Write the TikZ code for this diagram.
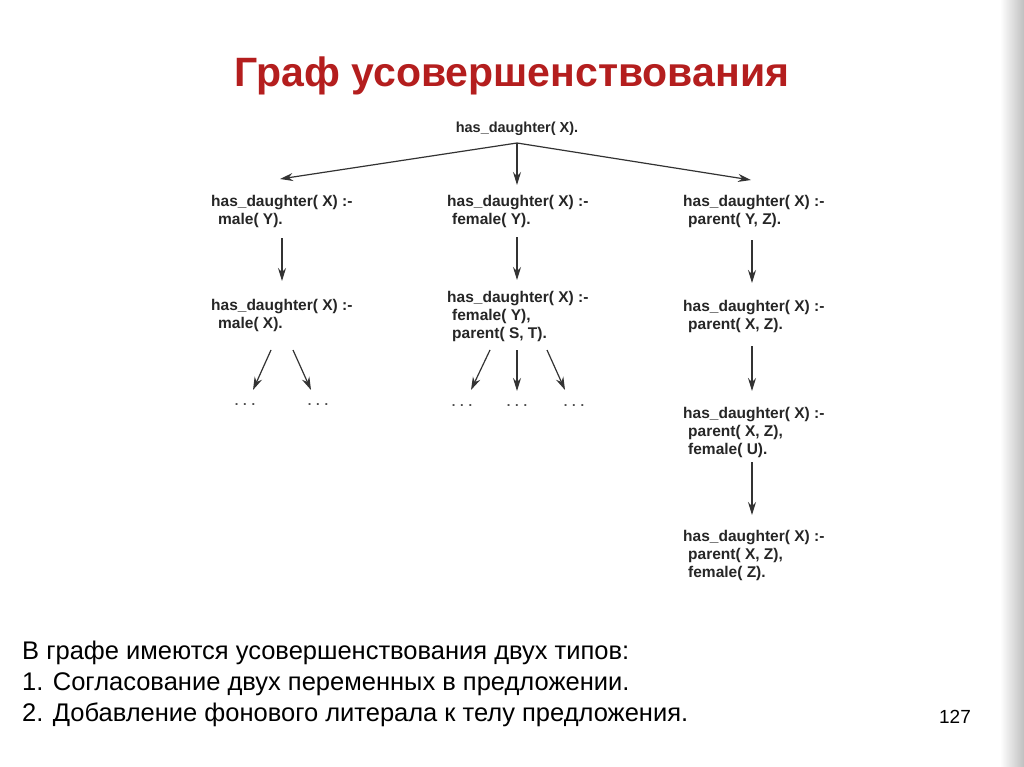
\documentclass[tikz,border=0pt]{standalone}
\usepackage{fontspec}
\setmainfont{Liberation Sans}
\usetikzlibrary{arrows.meta}
\begin{document}
\begin{tikzpicture}[x=1pt,y=-1pt,
  t/.style={anchor=north west,align=left,inner sep=0pt,font=\fontsize{15.5}{18}\selectfont\bfseries,text=black!85},
  dots/.style={inner sep=1pt,font=\fontsize{13}{14}\selectfont\bfseries,text=black!70},
  arr/.style={-{Stealth[length=13pt,width=8pt]},line width=1.2pt,black!80}]
\useasboundingbox (0,0) rectangle (1024,767);
\fill[white] (0,0) rectangle (1024,767);
\shade[left color=white,right color=black!25] (1000,0) rectangle (1024,767);
\node[text={rgb,255:red,180;green,30;blue,30},font=\fontsize{41}{44}\selectfont\bfseries] (title) at (512,76) {Граф усовершенствования};
\node[anchor=center,inner sep=1pt,font=\fontsize{14.5}{18}\selectfont\bfseries,text=black!85] (root) at (517,129) {has\_daughter( X).};
\node[t] (l1) at (211,195) {has\_daughter( X) :-\\\hspace*{7pt}male( Y).};
\node[t] (m1) at (447,195) {has\_daughter( X) :-\\\hspace*{5pt}female( Y).};
\node[t] (r1) at (683,195) {has\_daughter( X) :-\\\hspace*{5pt}parent( Y, Z).};
\node[t] (l2) at (211,299) {has\_daughter( X) :-\\\hspace*{7pt}male( X).};
\node[t] (m2) at (447,291) {has\_daughter( X) :-\\\hspace*{5pt}female( Y),\\\hspace*{5pt}parent( S, T).};
\node[t] (r2) at (683,300) {has\_daughter( X) :-\\\hspace*{5pt}parent( X, Z).};
\node[t] (r3) at (683,407) {has\_daughter( X) :-\\\hspace*{5pt}parent( X, Z),\\\hspace*{5pt}female( U).};
\node[t] (r4) at (683,530) {has\_daughter( X) :-\\\hspace*{5pt}parent( X, Z),\\\hspace*{5pt}female( Z).};
\node[dots] (d1) at (245,405) {. . .};
\node[dots] (d2) at (318,405) {. . .};
\node[dots] (d3) at (462,406) {. . .};
\node[dots] (d4) at (517,406) {. . .};
\node[dots] (d5) at (574,406) {. . .};
\coordinate (rs) at (517,143);
\draw[arr] (rs) -- (280,179);
\draw[arr] (rs) -- (517,185);
\draw[arr] (rs) -- (751,180);
\draw[arr] (282,238) -- (282,281);
\draw[arr] (517,237) -- (517,280);
\draw[arr] (752,240) -- (752,283);
\draw[arr] (271,350) -- (253,390);
\draw[arr] (293,350) -- (311,390);
\draw[arr] (490,350) -- (471,390);
\draw[arr] (517,350) -- (517,391);
\draw[arr] (547,350) -- (565,390);
\draw[arr] (752,346) -- (752,391);
\draw[arr] (752,462) -- (752,515);
\node[anchor=west,align=left,inner sep=0pt,font=\fontsize{25.5}{31}\selectfont] (txt) at (22,684) {В графе имеются усовершенствования двух типов:\\1. Согласование двух переменных в предложении.\\2. Добавление фонового литерала к телу предложения.};
\node[font=\fontsize{19}{20}\selectfont] (pg) at (955,717) {127};
\end{tikzpicture}
\end{document}
